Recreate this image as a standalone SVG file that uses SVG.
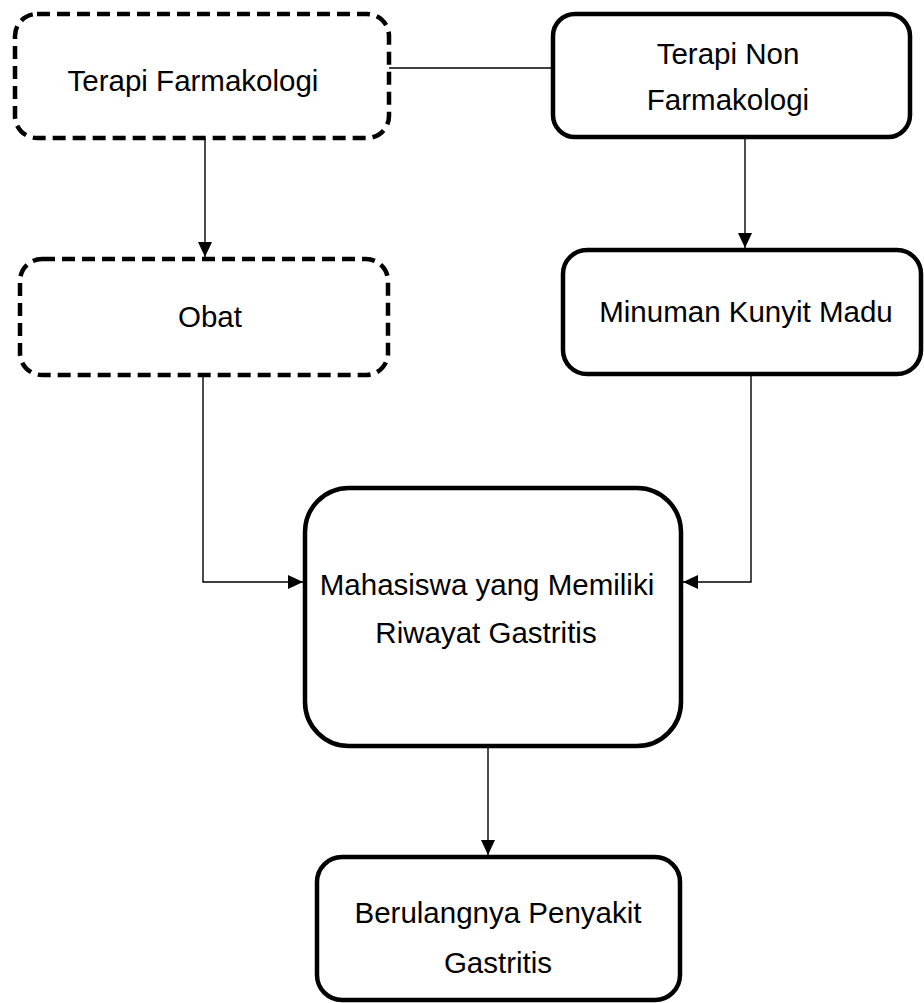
<svg xmlns="http://www.w3.org/2000/svg" width="924" height="1003" viewBox="0 0 924 1003">
  <style>
    .box { fill: #ffffff; stroke: #000000; stroke-width: 4.5; }
    .dash { stroke-dasharray: 13 7; }
    .lbl { font-family: "Liberation Sans", Arial, sans-serif; font-size: 29.5px; fill: #000000; text-anchor: middle; }
    .conn { fill: none; stroke: #000000; stroke-width: 1.4; }
  </style>
  <defs>
    <marker id="arr" viewBox="0 0 15 14" refX="15" refY="7" markerWidth="15" markerHeight="14" markerUnits="userSpaceOnUse" orient="auto">
      <path d="M0,0 L15,7 L0,14 z" fill="#000000"/>
    </marker>
  </defs>
  <rect width="924" height="1003" fill="#ffffff"/>

  <g id="connectors">
    <line class="conn" x1="389" y1="68" x2="553" y2="68"/>
    <line class="conn" x1="205" y1="138" x2="205" y2="257" marker-end="url(#arr)"/>
    <polyline class="conn" points="203,375 203,582 303,582" marker-end="url(#arr)"/>
    <line class="conn" x1="745" y1="137" x2="745" y2="248" marker-end="url(#arr)"/>
    <polyline class="conn" points="751,374 751,582 683,582" marker-end="url(#arr)"/>
    <line class="conn" x1="488" y1="746" x2="488" y2="855" marker-end="url(#arr)"/>
  </g>

  <g id="node-terapi-farmakologi">
    <rect class="box dash" x="15" y="14" width="374" height="124" rx="22" ry="22"/>
    <text class="lbl" x="193" y="91">Terapi Farmakologi</text>
  </g>

  <g id="node-terapi-non-farmakologi">
    <rect class="box" x="553" y="14" width="357" height="123" rx="22" ry="22"/>
    <text class="lbl" x="728" y="64">Terapi Non</text>
    <text class="lbl" x="728" y="110">Farmakologi</text>
  </g>

  <g id="node-obat">
    <rect class="box dash" x="20" y="259" width="368" height="116" rx="22" ry="22"/>
    <text class="lbl" x="210" y="327">Obat</text>
  </g>

  <g id="node-minuman">
    <rect class="box" x="563" y="250" width="358" height="124" rx="24" ry="24"/>
    <text class="lbl" x="746" y="322">Minuman Kunyit Madu</text>
  </g>

  <g id="node-mahasiswa">
    <rect class="box" x="305" y="488" width="376" height="258" rx="44" ry="44"/>
    <text class="lbl" x="487" y="595">Mahasiswa yang Memiliki</text>
    <text class="lbl" x="486" y="643">Riwayat Gastritis</text>
  </g>

  <g id="node-berulangnya">
    <rect class="box" x="317" y="857" width="363" height="143" rx="25" ry="25"/>
    <text class="lbl" x="498" y="923">Berulangnya Penyakit</text>
    <text class="lbl" x="498" y="973">Gastritis</text>
  </g>
</svg>
